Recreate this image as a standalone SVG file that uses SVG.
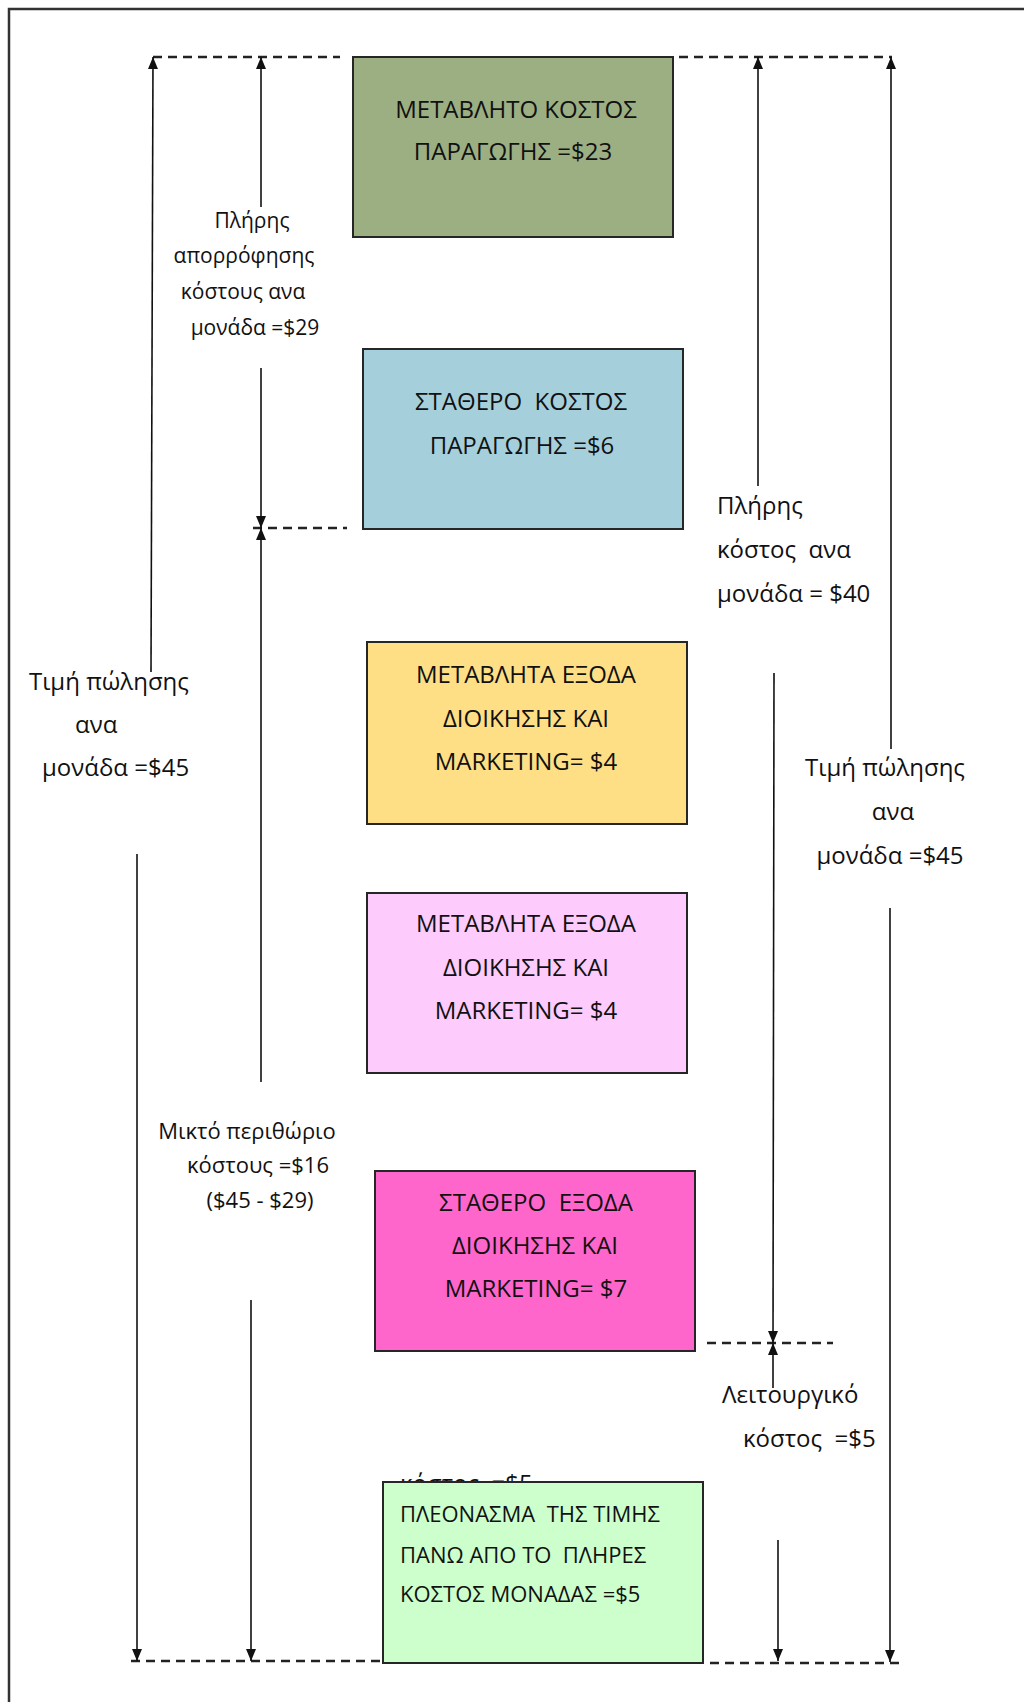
<svg xmlns="http://www.w3.org/2000/svg" width="1024" height="1702" viewBox="0 0 1024 1702">
  <style>
    .frame { fill: none; stroke: #333; stroke-width: 2.5; }
    .box { stroke: #262626; stroke-width: 2; }
    .t { font-family: "Open Sans", "Noto Sans", "DejaVu Sans", sans-serif; fill: #111; white-space: pre; }
    .big { font-size: 24px; }
    .small { font-size: 21px; }
    .note { font-size: 22px; }
    .mid { text-anchor: middle; }
    .arrow { stroke: #111; stroke-width: 1.6; fill: none; marker-end: url(#head); }
    .dash { stroke: #222; stroke-width: 2.5; stroke-dasharray: 9 6; fill: none; }
  </style>
  <defs>
    <marker id="head" viewBox="0 0 12 10" refX="12" refY="5" markerWidth="12" markerHeight="10" markerUnits="userSpaceOnUse" orient="auto">
      <path d="M0,0 L12,5 L0,10 z" fill="#111"/>
    </marker>
  </defs>

  <rect width="1024" height="1702" fill="#fff"/>
  <!-- page frame, running off the right and bottom edges -->
  <rect class="frame" x="9" y="9" width="1030" height="1710"/>

  <!-- text left behind the last box, only its top shows -->
  <text class="t big" x="400" y="1492">κόστος  =$5</text>

  <g id="variable-production-cost">
    <rect class="box" x="353" y="57" width="320" height="180" fill="#9caf83"/>
    <text class="t big mid" x="516" y="118">ΜΕΤΑΒΛΗΤΟ ΚΟΣΤΟΣ</text>
    <text class="t big mid" x="513" y="160">ΠΑΡΑΓΩΓΗΣ =$23</text>
  </g>

  <g id="fixed-production-cost">
    <rect class="box" x="363" y="349" width="320" height="180" fill="#a6cfdc"/>
    <text class="t big mid" x="521" y="410">ΣΤΑΘΕΡΟ  ΚΟΣΤΟΣ</text>
    <text class="t big mid" x="522" y="454">ΠΑΡΑΓΩΓΗΣ =$6</text>
  </g>

  <g id="variable-admin-marketing-1">
    <rect class="box" x="367" y="642" width="320" height="182" fill="#ffdf86"/>
    <text class="t big mid" x="526" y="683">ΜΕΤΑΒΛΗΤΑ ΕΞΟΔΑ</text>
    <text class="t big mid" x="526" y="727">ΔΙΟΙΚΗΣΗΣ ΚΑΙ</text>
    <text class="t big mid" x="526" y="770">MARKETING= $4</text>
  </g>

  <g id="variable-admin-marketing-2">
    <rect class="box" x="367" y="893" width="320" height="180" fill="#fecbfd"/>
    <text class="t big mid" x="526" y="932">ΜΕΤΑΒΛΗΤΑ ΕΞΟΔΑ</text>
    <text class="t big mid" x="526" y="976">ΔΙΟΙΚΗΣΗΣ ΚΑΙ</text>
    <text class="t big mid" x="526" y="1019">MARKETING= $4</text>
  </g>

  <g id="fixed-admin-marketing">
    <rect class="box" x="375" y="1171" width="320" height="180" fill="#ff66cc"/>
    <text class="t big mid" x="536" y="1211">ΣΤΑΘΕΡΟ  ΕΞΟΔΑ</text>
    <text class="t big mid" x="535" y="1254">ΔΙΟΙΚΗΣΗΣ ΚΑΙ</text>
    <text class="t big mid" x="536" y="1297">MARKETING= $7</text>
  </g>

  <g id="surplus-over-full-cost">
    <rect class="box" x="383" y="1482" width="320" height="181" fill="#ccffcc"/>
    <text class="t note" x="400" y="1522">ΠΛΕΟΝΑΣΜΑ  ΤΗΣ ΤΙΜΗΣ</text>
    <text class="t note" x="400" y="1563">ΠΑΝΩ ΑΠΟ ΤΟ  ΠΛΗΡΕΣ</text>
    <text class="t note" x="400" y="1602">ΚΟΣΤΟΣ ΜΟΝΑΔΑΣ =$5</text>
  </g>

  <g id="labels">
    <g id="label-absorption-cost">
      <text class="t small mid" x="252" y="228">Πλήρης</text>
      <text class="t small mid" x="244" y="263">απορρόφησης</text>
      <text class="t small mid" x="243" y="299">κόστους ανα</text>
      <text class="t small mid" x="255" y="335">μονάδα =$29</text>
    </g>
    <g id="label-price-left">
      <text class="t big" x="29" y="690">Τιμή πώλησης</text>
      <text class="t big" x="75" y="733">ανα</text>
      <text class="t big" x="42" y="776">μονάδα =$45</text>
    </g>
    <g id="label-gross-margin">
      <text class="t note mid" x="247" y="1139">Μικτό περιθώριο</text>
      <text class="t note mid" x="258" y="1173">κόστους =$16</text>
      <text class="t note mid" x="260" y="1208">($45 - $29)</text>
    </g>
    <g id="label-full-cost">
      <text class="t big" x="717" y="514">Πλήρης</text>
      <text class="t big" x="717" y="558">κόστος  ανα</text>
      <text class="t big" x="717" y="602">μονάδα = $40</text>
    </g>
    <g id="label-price-right">
      <text class="t big mid" x="885" y="776">Τιμή πώλησης</text>
      <text class="t big mid" x="893" y="820">ανα</text>
      <text class="t big mid" x="890" y="864">μονάδα =$45</text>
    </g>
    <g id="label-operating-cost">
      <text class="t big" x="722" y="1403">Λειτουργικό</text>
      <text class="t big" x="743" y="1447">κόστος  =$5</text>
    </g>
  </g>

  <g id="connectors">
    <!-- dashed level lines -->
    <line class="dash" x1="153" y1="57" x2="340" y2="57"/>
    <line class="dash" x1="679" y1="57" x2="892" y2="57"/>
    <line class="dash" x1="253" y1="528" x2="347" y2="528"/>
    <line class="dash" x1="707" y1="1343" x2="833" y2="1343"/>
    <line class="dash" x1="131" y1="1661" x2="382" y2="1661"/>
    <line class="dash" x1="710" y1="1663" x2="902" y2="1663"/>

    <!-- selling price, left -->
    <line class="arrow" x1="151" y1="672" x2="153" y2="57"/>
    <line class="arrow" x1="137" y1="854" x2="137" y2="1661"/>
    <!-- absorption cost and gross margin -->
    <line class="arrow" x1="261" y1="207" x2="261" y2="57"/>
    <line class="arrow" x1="261" y1="368" x2="261" y2="528"/>
    <line class="arrow" x1="261" y1="1082" x2="261" y2="528"/>
    <line class="arrow" x1="251" y1="1300" x2="251" y2="1661"/>
    <!-- full cost and operating cost -->
    <line class="arrow" x1="758" y1="486" x2="758" y2="57"/>
    <line class="arrow" x1="774" y1="673" x2="773" y2="1343"/>
    <line class="arrow" x1="773" y1="1388" x2="773" y2="1343"/>
    <line class="arrow" x1="778" y1="1540" x2="778" y2="1661"/>
    <!-- selling price, right -->
    <line class="arrow" x1="891" y1="749" x2="891" y2="57"/>
    <line class="arrow" x1="890" y1="908" x2="890" y2="1662"/>
  </g>
</svg>
